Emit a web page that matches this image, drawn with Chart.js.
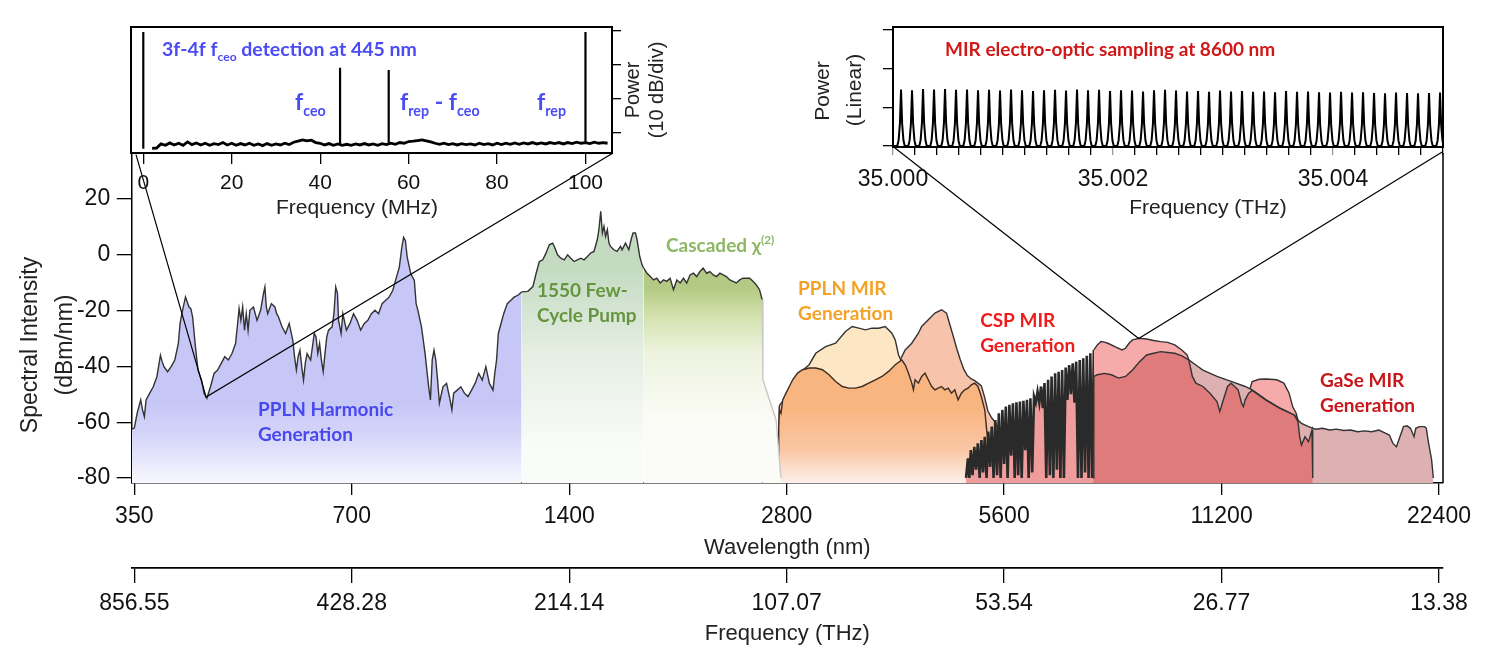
<!DOCTYPE html>
<html>
<head>
<meta charset="utf-8">
<script src="https://cdn.jsdelivr.net/npm/chart.js@4.4.1/dist/chart.umd.min.js"></script>
<style>
  html, body { margin: 0; padding: 0; background: #fff; width: 1500px; height: 658px; overflow: hidden; }
  canvas { position: absolute; }
</style>
</head>
<body>
<canvas id="main" width="1500" height="658" style="left:0;top:0"></canvas>
<canvas id="mhz" width="720" height="240" style="left:0;top:0"></canvas>
<canvas id="thz" width="800" height="240" style="left:700px;top:0"></canvas>
<script>
// speed of light in nm*THz, used for the frequency axis under the wavelength axis
const C_NM_THZ = 299792.458;

// ---------- main spectrum: wavelength (nm) vs spectral intensity (dBm/nm) ----------
const harmonicNm = [347.2, 350, 353.2, 357.2, 359.3, 361.4, 363.4, 367.6, 371.8, 376.1, 380.4, 382.5, 384.7, 389.2, 393.6, 398.2, 402.7, 405.0, 407.3, 412.0, 416.7, 419.1, 421.5, 425.3, 428.8, 433.7, 437.1, 441.1, 446.2, 451.3, 456.5, 461.7, 467.0, 472.4, 477.8, 483.3, 486.0, 488.8, 491.6, 494.4, 497.3, 500.1, 503.0, 505.9, 511.7, 514.6, 517.5, 523.5, 528.3, 530.7, 533.1, 535.5, 541.7, 547.9, 551.0, 554.2, 560.5, 566.9, 573.4, 580.0, 583.3, 586.7, 590.0, 593.4, 596.8, 600.2, 603.6, 607.1, 614.0, 621.1, 624.6, 628.2, 631.8, 635.4, 639.1, 642.7, 646.4, 650.1, 657.5, 661.3, 665.1, 668.9, 671.1, 676.6, 680.4, 688.2, 696.0, 704.0, 712.1, 720.2, 728.5, 736.8, 745.2, 753.8, 762.4, 771.1, 780.0, 788.9, 797.9, 807.2, 814.6, 821.1, 825.8, 830.5, 835.3, 844.9, 854.5, 859.4, 864.3, 874.2, 884.3, 894.4, 899.5, 904.7, 909.8, 915.0, 920.3, 925.6, 936.2, 946.9, 957.7, 963.2, 968.7, 979.8, 991.0, 1002.4, 1013.9, 1025.5, 1037.2, 1049.1, 1061.1, 1073.3, 1085.6, 1098.0, 1104.3, 1110.6, 1116.9, 1123.3, 1136.2, 1149.2, 1162.3, 1175.6, 1189.1, 1202.7];
const harmonicDbm = [-62.5, -62.1, -56.8, -52.0, -55.6, -58.0, -52.0, -49.6, -47.3, -43.7, -36.0, -38.3, -40.1, -41.9, -40.1, -37.7, -31.8, -24.6, -21.1, -15.1, -18.7, -19.3, -22.3, -33.0, -41.3, -44.9, -49.6, -51.4, -47.3, -42.5, -41.3, -38.9, -36.5, -37.7, -35.4, -31.8, -25.8, -19.3, -23.5, -18.7, -27.0, -21.1, -27.0, -19.9, -18.7, -21.1, -23.5, -19.9, -13.9, -11.5, -18.7, -21.1, -17.5, -18.7, -21.1, -22.3, -25.8, -28.2, -24.6, -30.6, -36.5, -41.3, -36.5, -34.2, -40.1, -44.9, -38.9, -35.4, -37.7, -28.2, -29.4, -35.4, -31.8, -37.7, -41.9, -35.4, -29.4, -27.0, -25.8, -21.1, -11.5, -13.9, -23.5, -28.2, -21.1, -27.0, -24.6, -21.1, -23.5, -27.0, -24.6, -23.5, -21.1, -19.9, -21.1, -17.5, -16.3, -15.1, -12.7, -8.0, -4.4, 2.7, 6.3, 5.1, -0.8, -6.8, -9.2, -17.5, -19.9, -25.8, -35.4, -47.3, -52.0, -37.7, -34.2, -37.7, -44.9, -53.2, -47.3, -46.1, -52.0, -55.6, -49.6, -48.5, -47.3, -49.6, -50.8, -48.5, -46.1, -42.5, -44.9, -40.1, -46.1, -48.5, -42.5, -37.7, -28.2, -25.8, -21.1, -17.5, -16.3, -15.1, -14.5, -13.3];

const pumpNm = [1202.7, 1227, 1247, 1260, 1273, 1287, 1300, 1314, 1328, 1335, 1349, 1363, 1378, 1393, 1407, 1422, 1437, 1453, 1468, 1484, 1499, 1515, 1531, 1539, 1548, 1556, 1564, 1572, 1581, 1589, 1597, 1614, 1631, 1649, 1657, 1675, 1693, 1705, 1716, 1729, 1738, 1753, 1766, 1775];
const pumpDbm = [-13.3, -13.1, -11.4, -6.6, -2.4, -1.8, 0.6, 3.6, 4.2, 3.0, 0.0, -1.2, -1.8, 0.0, -1.2, -2.4, -1.8, -1.2, -1.8, -0.6, 0.6, 1.2, 5.4, 9.0, 15.6, 7.8, 10.2, 6.6, 9.0, 4.2, 3.0, 1.8, 1.2, 3.0, 1.8, 4.2, 1.8, 5.4, 7.8, 7.8, 5.4, -0.6, -3.6, -4.8];

const cascadeNm = [1775, 1794, 1813, 1832, 1851, 1871, 1891, 1911, 1931, 1952, 1973, 1994, 2015, 2036, 2058, 2080, 2102, 2124, 2146, 2169, 2192, 2216, 2239, 2263, 2287, 2311, 2336, 2360, 2385, 2411, 2436, 2462, 2488, 2515, 2541, 2568, 2590, 2596, 2707, 2750];
const cascadeDbm = [-4.8, -6.6, -7.8, -9.0, -8.4, -10.1, -9.0, -9.5, -8.4, -12.5, -9.0, -10.1, -8.4, -10.1, -7.2, -6.6, -7.8, -6.0, -4.8, -6.6, -6.0, -7.2, -7.8, -6.6, -7.2, -7.8, -9.0, -9.5, -10.1, -9.0, -8.4, -8.4, -8.4, -9.5, -10.7, -12.5, -16.1, -44.8, -59.2, -80];

const pplnOrangeNm = [2725, 2730, 2736, 2750, 2765, 2794, 2824, 2854, 2899, 2945, 3008, 3072, 3138, 3205, 3273, 3343, 3414, 3487, 3561, 3637, 3715, 3794, 3875, 3958, 4042, 4085, 4128, 4172, 4194, 4216, 4261, 4306, 4352, 4398, 4445, 4492, 4539, 4588, 4636, 4685, 4735, 4785, 4836, 4887, 4939, 4992, 5044, 5098, 5152, 5207, 5265, 5325, 5355];
const pplnOrangeDbm = [-80, -62, -55.6, -56.8, -52.0, -49.6, -47.2, -44.8, -42.4, -41.2, -40.6, -40.6, -41.2, -43.0, -45.4, -47.2, -47.8, -47.8, -47.2, -46.0, -44.8, -43.6, -41.8, -39.4, -37.7, -39.4, -42.4, -46.0, -48.4, -44.8, -46.0, -43.6, -42.4, -44.8, -47.2, -48.4, -47.8, -47.2, -48.4, -47.8, -49.6, -48.4, -52.0, -49.6, -48.4, -47.8, -46.6, -46.0, -47.2, -50.8, -55.6, -68.8, -80];

const pplnPeachNm = [2794, 2854, 2945, 3008, 3072, 3171, 3273, 3378, 3450, 3524, 3599, 3676, 3754, 3834, 3916, 3958, 4000, 4042, 4085, 4172, 4200];
const pplnPeachDbm = [-52, -46, -41.5, -39.4, -35.3, -32.9, -31.7, -27.5, -25.7, -26.3, -26.9, -26.3, -26.3, -25.7, -28.1, -30.5, -35.9, -38.5, -42, -52, -80];

const pplnSalmonNm = [2725, 2736, 2794, 2899, 3008, 3205, 3414, 3637, 3875, 4000, 4021, 4085, 4172, 4261, 4306, 4398, 4492, 4588, 4661, 4710, 4760, 4814, 4869, 4924, 4980, 5044, 5093, 5152, 5209, 5262, 5318, 5384, 5445, 5489, 5520];
const pplnSalmonDbm = [-80, -54, -51, -44, -42, -44.5, -49, -47.5, -43, -39.5, -37.7, -34.1, -31.7, -28.1, -25.7, -23.3, -20.9, -19.7, -20.9, -25, -29, -33.5, -37.5, -41, -43.3, -44.5, -45, -46, -47, -51, -56, -58.5, -60, -62, -80];

// CSP broad trace: the 5-7.5 um part is cut up by water absorption lines
const cspWaterNm = [4960, 4990, 5013, 5036, 5064, 5093, 5121, 5150, 5180, 5209, 5237, 5265, 5295, 5325, 5355, 5384, 5415, 5445, 5476, 5507, 5538, 5569, 5600, 5631, 5663, 5695, 5727, 5760, 5792, 5825, 5857, 5890, 5923, 5956, 5990, 6023, 6056, 6090, 6125, 6160, 6195, 6230, 6265, 6300, 6335, 6370, 6405, 6443, 6480, 6515, 6552, 6589, 6626, 6663, 6700, 6738, 6776, 6814, 6852, 6891, 6930, 6969, 7008, 7047, 7087, 7127, 7167, 7207, 7248, 7289, 7330, 7371, 7412, 7454];
const cspWaterDbm = [-80, -73, -80, -70, -79, -68.8, -77, -67.6, -80, -66.4, -78, -65.2, -80, -63.4, -76, -61.6, -80, -59.2, -79, -56.8, -80, -55.6, -75, -54.4, -80, -53.8, -72, -53.2, -80, -52.9, -79, -52.6, -80, -52.3, -70, -52.0, -80, -51.4, -78, -50.8, -53, -49.0, -53, -47.2, -55, -46.0, -80, -44.8, -79, -43.6, -80, -42.5, -77, -41.9, -80, -41.3, -80, -40.4, -52, -39.5, -50, -38.9, -53, -38.3, -80, -37.7, -80, -37.1, -78, -36.2, -80, -35.3, -80, -34.1];
const cspPinkNm = [7454, 7538, 7624, 7709, 7796, 7973, 8154, 8246, 8339, 8433, 8624, 8819, 9019, 9224, 9433, 9648, 9867, 10035, 10090, 10319, 10553, 11038, 11544, 12075, 12211, 12349, 12629, 12915, 13356, 13660, 13891, 14048, 14207, 14287, 14400, 14500];
const cspPinkDbm = [-34.1, -32.3, -31.1, -31.3, -31.7, -32.9, -34.1, -33.5, -31.7, -30.5, -29.9, -30.2, -30.7, -31.1, -31.4, -32.3, -34.1, -35.9, -37.7, -40.5, -42.3, -44.6, -46.4, -48.2, -49.5, -45.4, -44.6, -44.5, -44.8, -46.0, -49.6, -54.4, -56.8, -59.2, -62, -80];

const cspRedNm = [7440, 7454, 7538, 7709, 7884, 8063, 8246, 8433, 8624, 8819, 9019, 9224, 9433, 9648, 9867, 10090, 10205, 10319, 10553, 10793, 11038, 11137, 11226, 11416, 11544, 11674, 11806, 11940, 12007, 12075, 12211, 12349, 12915, 13508, 14128, 14287, 14368, 14449, 14612, 14776, 14943, 14977];
const cspRedDbm = [-80, -43.6, -43.0, -42.5, -43.0, -44.2, -43.6, -41.3, -38.3, -35.9, -35.3, -34.7, -35.0, -35.3, -36.2, -37.7, -43.6, -46.0, -47.2, -49.6, -52.6, -56.2, -53.2, -47.2, -46.0, -47.2, -48.4, -53.2, -54.4, -52.0, -49.6, -48.6, -52.2, -55.1, -57.5, -59.8, -65.2, -68.2, -65.2, -67, -62.8, -80];

const gaseNm = [9800, 9867, 10090, 10319, 10553, 11038, 11544, 12075, 12349, 12915, 13508, 14128, 14287, 14449, 14776, 15111, 15454, 15805, 16163, 16530, 16904, 17288, 17680, 18080, 18490, 18910, 19122, 19338, 19557, 19777, 20001, 20226, 20454, 20685, 20801, 21036, 21393, 21513, 21633, 21756, 21878, 22001];
const gaseDbm = [-80, -40, -37.7, -39.5, -41.3, -43.6, -45.4, -47.2, -48.4, -52.0, -55.0, -57.4, -59.2, -60.4, -61.6, -62.5, -62.2, -62.8, -62.5, -63.0, -62.8, -63.4, -63.1, -63.4, -62.8, -64.0, -64.6, -67.6, -68.8, -65.2, -61.6, -61.3, -62.2, -65.2, -62.2, -61.6, -61.6, -62.2, -66.4, -70, -73.5, -80];

const wavelengthTicks = [350, 700, 1400, 2800, 5600, 11200, 22400];
const frequencyTickLabels = ['856.55', '428.28', '214.14', '107.07', '53.54', '26.77', '13.38'];
const intensityTicks = [20, 0, -20, -40, -60, -80];

// lines joining each inset to the spot on the spectrum it was measured at
const mhzLinkNm = [351.9, 440, 1610];
const mhzLinkDbm = [35.9, -51, 36.5];
const thzLinkNm = [3931, 8600, 22687];
const thzLinkDbm = [38.8, -30, 37.0];

// ---------- inset 1: RF spectrum, 3f-4f f_ceo beat ----------
const noiseMHz = [2, 3, 4, 5, 6, 7, 8, 9, 10, 11, 12, 13, 14, 15, 16, 17, 18, 19, 20, 21, 22, 23, 24, 25, 26, 27, 28, 29, 30, 31, 32, 33, 34, 35, 36, 37, 38, 39, 40, 41, 42, 43, 44, 45, 46, 47, 48, 49, 50, 51, 52, 53, 54, 55, 56, 57, 58, 59, 60, 61, 62, 63, 64, 65, 66, 67, 68, 69, 70, 71, 72, 73, 74, 75, 76, 77, 78, 79, 80, 81, 82, 83, 84, 85, 86, 87, 88, 89, 90, 91, 92, 93, 94, 95, 96, 97, 98, 99, 100, 101, 102, 103, 104, 105];
const noiseDb = [-34.5, -34.4, -33.2, -33.6, -32.9, -33.5, -33.0, -33.6, -32.6, -33.4,
  -32.9, -33.5, -33.0, -33.6, -33.1, -33.4, -32.8, -33.5, -33.0, -33.6,
  -33.1, -33.5, -33.0, -33.6, -33.2, -33.7, -33.1, -33.6, -33.2, -33.5,
  -33.0, -33.4, -32.7, -32.4, -32.0, -32.3, -32.1, -32.8, -33.0, -33.5,
  -33.1, -33.6, -33.2, -33.6, -33.3, -33.6, -33.2, -33.5, -33.1, -33.5,
  -33.2, -33.6, -33.1, -33.4, -33.0, -33.3, -32.8, -33.0, -32.5, -32.4,
  -32.2, -32.0, -32.3, -32.6, -33.0, -33.3, -33.0, -33.4, -33.1, -33.5,
  -33.1, -33.4, -33.2, -33.5, -33.0, -33.4, -33.1, -33.5, -33.0, -33.4,
  -33.0, -33.3, -32.9, -33.3, -32.9, -33.2, -32.8, -33.2, -32.9, -33.2,
  -32.8, -33.1, -32.8, -33.2, -32.8, -33.1, -32.7, -33.0, -32.8, -33.1,
  -32.7, -33.0, -32.8, -33.0];
const beatMHz = [0, 44.5, 55.5, 100];
const beatPeakDb = [-0.4, -10.9, -11.5, -0.4];
const beatFloorDb = [-34.6, -33.4, -33.3, -33.0];
const mhzTicks = [0, 20, 40, 60, 80, 100];
const dbDivTicks = [0, -10, -20, -30];

// ---------- inset 2: EO sampled comb lines near 35 THz (x = offset from 35 THz, MHz) ----------
const combOffsetMHz = [73, 173, 273, 373, 473, 573, 673, 773, 873, 973, 1073, 1173, 1273, 1373, 1473, 1573, 1673, 1773, 1873, 1973, 2073, 2173, 2273, 2373, 2473, 2573, 2673, 2773, 2873, 2973, 3073, 3173, 3273, 3373, 3473, 3573, 3673, 3773, 3873, 3973, 4073, 4173, 4273, 4373, 4473, 4573, 4673, 4773, 4873, 4973];
const combPower = [1.46, 1.44, 1.47, 1.46, 1.47, 1.45, 1.46, 1.44, 1.45, 1.43,
  1.46, 1.44, 1.42, 1.44, 1.45, 1.43, 1.46, 1.44, 1.45, 1.42,
  1.44, 1.43, 1.41, 1.44, 1.45, 1.43, 1.41, 1.42, 1.40, 1.43,
  1.41, 1.42, 1.40, 1.41, 1.39, 1.42, 1.40, 1.41, 1.39, 1.38,
  1.40, 1.38, 1.39, 1.37, 1.36, 1.38, 1.37, 1.36, 1.37, 1.38];
const thzMajorTicks = [0, 2000, 4000];
const thzTickLabels = ['35.000', '35.002', '35.004'];
const linearTicks = [0, 1, 2, 3];

// ---------- helpers ----------
const TICK_FONT = 'Liberation Sans';
const NOTE_FONT = 'Lato';
Chart.defaults.font.family = TICK_FONT;

function pts(xs, ys) {
  return xs.map((x, i) => ({ x: x, y: ys[i] }));
}

// vertical fade for a fill, stops are [dBm, colour]
function fade(stops) {
  return function (c) {
    const chart = c.chart;
    if (!chart.chartArea) return stops[0][1];
    const y = chart.scales.y;
    const y0 = y.getPixelForValue(stops[0][0]);
    const y1 = y.getPixelForValue(stops[stops.length - 1][0]);
    const g = chart.ctx.createLinearGradient(0, y0, 0, y1);
    stops.forEach(function (s) {
      g.addColorStop((y.getPixelForValue(s[0]) - y0) / (y1 - y0), s[1]);
    });
    return g;
  };
}

function band(xs, ys, fill, order, line, width) {
  return {
    data: pts(xs, ys), order: order,
    borderColor: line || '#333', borderWidth: width || 1.4,
    fill: 'start', backgroundColor: fill,
    pointRadius: 0, tension: 0
  };
}

function richText(ctx, x, y, parts, size, color, weight) {
  ctx.fillStyle = color;
  ctx.textAlign = 'left';
  ctx.textBaseline = 'alphabetic';
  let cx = x;
  parts.forEach(function (p) {
    const mode = p[1];
    const s = mode ? size * 0.62 : size;
    ctx.font = (weight || 'bold') + ' ' + s + 'px ' + NOTE_FONT;
    const dy = mode === 'sub' ? size * 0.24 : (mode === 'sup' ? -size * 0.42 : 0);
    ctx.fillText(p[0], cx, y + dy);
    cx += ctx.measureText(p[0]).width;
  });
}

function label(ctx, t, x, y, size, rotate) {
  ctx.save();
  ctx.translate(x, y);
  if (rotate) ctx.rotate(-Math.PI / 2);
  ctx.font = size + 'px ' + TICK_FONT;
  ctx.fillStyle = '#222';
  ctx.textAlign = 'center';
  ctx.textBaseline = 'middle';
  ctx.fillText(t, 0, 0);
  ctx.restore();
}

const tickFont = { family: TICK_FONT, size: 23 };

// ---------- main chart ----------
const lambdaMin = 347.1, lambdaMax = 22687;

const bandNotes = [
  { lines: [[['PPLN Harmonic', '']], [['Generation', '']]], nm: 519, dbm: -55.2, color: '#4848f0' },
  { lines: [[['1550 Few-', '']], [['Cycle Pump', '']]], nm: 1263, dbm: -12.5, color: '#65953f' },
  { lines: [[['Cascaded \u03c7', ''], ['(2)', 'sup']]], nm: 1906, dbm: 3.6, color: '#8db764' },
  { lines: [[['PPLN MIR', '']], [['Generation', '']]], nm: 2904, dbm: -11.8, color: '#f4a226' },
  { lines: [[['CSP MIR', '']], [['Generation', '']]], nm: 5188, dbm: -23.3, color: '#f01c1c' },
  { lines: [[['GaSe MIR', '']], [['Generation', '']]], nm: 15330, dbm: -44.8, color: '#c8161a' }
];

const mainDecor = {
  id: 'mainDecor',
  afterDraw(chart) {
    const ctx = chart.ctx, a = chart.chartArea, sx = chart.scales.x, sy = chart.scales.y;
    ctx.save();
    ctx.strokeStyle = '#000';
    ctx.lineWidth = 1.5;
    ctx.beginPath();
    ctx.moveTo(a.right, a.top);
    ctx.lineTo(a.right, a.bottom);
    ctx.stroke();

    label(ctx, 'Spectral Intensity', 31, 345, 23, true);
    label(ctx, '(dBm/nm)', 66, 345, 23, true);
    label(ctx, 'Wavelength (nm)', (a.left + a.right) / 2, 548, 22);
    label(ctx, 'Frequency (THz)', (a.left + a.right) / 2, 634, 22);

    bandNotes.forEach(function (n) {
      const x = sx.getPixelForValue(n.nm);
      const y = sy.getPixelForValue(n.dbm);
      n.lines.forEach(function (parts, i) {
        richText(ctx, x, y + 7 + i * 25, parts, 19, n.color);
      });
    });
    ctx.restore();
  }
};

const cascade = band(cascadeNm, cascadeDbm,
  fade([[-12, '#b4ca84'], [-22, '#d3e1ae'], [-35, '#eef3df'], [-60, '#fbfcf7']]), 3);
cascade.segment = { borderColor: c => (c.p1.parsed.y < -30 ? '#c8c8c8' : undefined) };

new Chart(document.getElementById('main'), {
  type: 'line',
  data: {
    datasets: [
      { data: pts(mhzLinkNm, mhzLinkDbm), order: 0, borderColor: '#000', borderWidth: 1.2, pointRadius: 0, fill: false, clip: false },
      { data: pts(thzLinkNm, thzLinkDbm), order: 0, borderColor: '#000', borderWidth: 1.2, pointRadius: 0, fill: false, clip: false },
      band(harmonicNm, harmonicDbm, fade([[-52, '#c6c6f7'], [-64, '#d4d4f9'], [-81.8, '#f8f8fe']]), 1),
      band(pumpNm, pumpDbm, fade([[-5, '#c4dbc2'], [-35, '#e5eee3'], [-70, '#fafcfa']]), 2),
      cascade,
      band(cspRedNm, cspRedDbm, '#e07b7b', 4),
      band(gaseNm, gaseDbm, '#ddb1b1', 5),
      band(cspPinkNm, cspPinkDbm, '#f6aaaa', 6),
      band(cspWaterNm, cspWaterDbm, '#ef9c9c', 6, '#2a2a2a', 2.6),
      band(pplnOrangeNm, pplnOrangeDbm, fade([[-55, '#f9b580'], [-70, '#fac7a6'], [-81.8, '#fdf0ea']]), 7, '#3d2c22'),
      band(pplnPeachNm, pplnPeachDbm, '#fde6c4', 8),
      band(pplnSalmonNm, pplnSalmonDbm, '#f8c3ab', 9)
    ]
  },
  options: {
    responsive: false, animation: false, events: [],
    layout: { padding: { left: 0, top: 153, right: 57, bottom: 0 } },
    plugins: { legend: { display: false }, tooltip: { enabled: false } },
    scales: {
      x: {
        type: 'logarithmic', position: 'bottom', weight: 0, min: lambdaMin, max: lambdaMax,
        afterFit: s => { s.height = 85; },
        afterBuildTicks: s => { s.ticks = wavelengthTicks.map(v => ({ value: v })); },
        ticks: { callback: v => String(v), font: tickFont, color: '#111', padding: 8, maxRotation: 0, minRotation: 0, autoSkip: false },
        grid: { drawOnChartArea: false, drawTicks: true, tickLength: 12, color: '#000', lineWidth: 1.3 },
        border: { display: true, color: '#000', width: 1.5 }
      },
      xf: {
        type: 'logarithmic', position: 'bottom', weight: 1, reverse: true,
        min: C_NM_THZ / lambdaMax, max: C_NM_THZ / lambdaMin,
        afterFit: s => { s.height = 90; },
        afterBuildTicks: s => { s.ticks = wavelengthTicks.map(v => ({ value: C_NM_THZ / v })); },
        ticks: { callback: (v, i) => frequencyTickLabels[i], font: tickFont, color: '#111', padding: 7, maxRotation: 0, minRotation: 0, autoSkip: false },
        grid: { drawOnChartArea: false, drawTicks: true, tickLength: 15, color: '#000', lineWidth: 1.3 },
        border: { display: true, color: '#000', width: 1.8 }
      },
      y: {
        type: 'linear', position: 'left', min: -81.8, max: 36.5,
        afterFit: s => { s.width = 131.7; },
        afterBuildTicks: s => { s.ticks = intensityTicks.map(v => ({ value: v })); },
        ticks: { callback: v => String(v), font: tickFont, color: '#111', padding: 6.5 },
        grid: { drawOnChartArea: false, drawTicks: true, tickLength: 15, color: '#000', lineWidth: 1.3 },
        border: { display: true, color: '#000', width: 1.5 }
      }
    }
  },
  plugins: [mainDecor]
});

// ---------- inset 1 ----------
const beatTrace = [];
beatMHz.forEach(function (f, i) {
  beatTrace.push({ x: f, y: beatFloorDb[i] }, { x: f, y: beatPeakDb[i] }, { x: f, y: null });
});

const mhzDecor = {
  id: 'mhzDecor',
  afterDraw(chart) {
    const ctx = chart.ctx, a = chart.chartArea;
    ctx.save();
    ctx.strokeStyle = '#000';
    ctx.lineWidth = 2;
    ctx.strokeRect(a.left, a.top, a.right - a.left, a.bottom - a.top);
    label(ctx, 'Frequency (MHz)', 357, 208, 21);
    label(ctx, 'Power', 633, 90, 20, true);
    label(ctx, '(10 dB/div)', 657, 90, 20, true);
    const blue = '#4b4bf5';
    richText(ctx, 162, 56, [['3f-4f f', ''], ['ceo', 'sub'], [' detection at 445 nm', '']], 19.5, blue);
    richText(ctx, 295, 110, [['f', ''], ['ceo', 'sub']], 23, blue);
    richText(ctx, 400, 110, [['f', ''], ['rep', 'sub'], [' - f', ''], ['ceo', 'sub']], 23, blue);
    richText(ctx, 537, 110, [['f', ''], ['rep', 'sub']], 23, blue);
    ctx.restore();
  }
};

new Chart(document.getElementById('mhz'), {
  type: 'line',
  data: {
    datasets: [
      { data: pts(noiseMHz, noiseDb), borderColor: '#000', borderWidth: 2.8, pointRadius: 0, fill: false, tension: 0 },
      { data: beatTrace, borderColor: '#000', borderWidth: 2.2, pointRadius: 0, fill: false, spanGaps: false }
    ]
  },
  options: {
    responsive: false, animation: false, events: [],
    layout: { padding: { left: 131, top: 27, right: 88, bottom: 47 } },
    plugins: { legend: { display: false }, tooltip: { enabled: false } },
    scales: {
      x: {
        type: 'linear', min: -2.78, max: 106,
        afterFit: s => { s.height = 40; },
        afterBuildTicks: s => { s.ticks = mhzTicks.map(v => ({ value: v })); },
        ticks: { callback: v => String(v), font: { family: TICK_FONT, size: 21 }, color: '#111', padding: 6.5, maxRotation: 0, autoSkip: false },
        grid: { drawOnChartArea: false, tickLength: 11, color: '#000', lineWidth: 1.3 },
        border: { display: true, color: '#000', width: 2 }
      },
      y: {
        type: 'linear', position: 'right', min: -35.86, max: 1.08,
        afterFit: s => { s.width = 20; },
        afterBuildTicks: s => { s.ticks = dbDivTicks.map(v => ({ value: v })); },
        ticks: { callback: () => '' },
        grid: { drawOnChartArea: false, tickLength: 9, color: '#000', lineWidth: 1.3 },
        border: { display: true, color: '#000', width: 2 }
      }
    }
  },
  plugins: [mhzDecor]
});

// ---------- inset 2 ----------
const combShapeDx = [-34, -22, -10, 0, 10, 22, 34];
const combShapeFrac = [0, 0.1, 0.4, 1, 0.4, 0.1, 0];
const combTrace = [{ x: 0, y: 0 }];
combOffsetMHz.forEach(function (f, i) {
  combShapeDx.forEach(function (dx, k) {
    combTrace.push({ x: f + dx, y: combPower[i] * combShapeFrac[k] });
  });
});
combTrace.push({ x: 5000, y: 0 });

const thzDecor = {
  id: 'thzDecor',
  afterDraw(chart) {
    const ctx = chart.ctx, a = chart.chartArea;
    ctx.save();
    ctx.strokeStyle = '#000';
    ctx.lineWidth = 2;
    ctx.strokeRect(a.left, a.top, a.right - a.left, a.bottom - a.top);
    label(ctx, 'Frequency (THz)', 1208 - 700, 208, 21);
    label(ctx, 'Power', 823 - 700, 91, 21, true);
    label(ctx, '(Linear)', 855 - 700, 90, 21, true);
    richText(ctx, 945 - 700, 56, [['MIR electro-optic sampling at 8600 nm', '']], 19, '#d01818');
    ctx.restore();
  }
};

new Chart(document.getElementById('thz'), {
  type: 'line',
  data: {
    datasets: [
      { data: combTrace, borderColor: '#000', borderWidth: 2, pointRadius: 0, fill: false, tension: 0 }
    ]
  },
  options: {
    responsive: false, animation: false, events: [],
    layout: { padding: { left: 173, top: 27, right: 57, bottom: 43 } },
    plugins: { legend: { display: false }, tooltip: { enabled: false } },
    scales: {
      x: {
        type: 'linear', min: 0, max: 5000,
        afterFit: s => { s.height = 50; },
        afterBuildTicks: s => {
          const t = [];
          for (let v = 0; v <= 5000; v += 200) t.push({ value: v });
          s.ticks = t;
        },
        ticks: {
          callback: v => { const k = thzMajorTicks.indexOf(v); return k >= 0 ? thzTickLabels[k] : ''; },
          font: tickFont, color: '#111', padding: 11, maxRotation: 0, autoSkip: false
        },
        grid: { drawOnChartArea: false, tickLength: 8, color: c => (thzMajorTicks.indexOf(c.tick && c.tick.value) >= 0 ? '#999' : '#000'), lineWidth: 1.3 },
        border: { display: true, color: '#000', width: 2 }
      },
      y: {
        type: 'linear', position: 'left', min: -0.026, max: 3.075,
        afterFit: s => { s.width = 20; },
        afterBuildTicks: s => { s.ticks = linearTicks.map(v => ({ value: v })); },
        ticks: { callback: () => '' },
        grid: { drawOnChartArea: false, tickLength: 10, color: '#000', lineWidth: 1.3 },
        border: { display: true, color: '#000', width: 2 }
      }
    }
  },
  plugins: [thzDecor]
});
</script>
</body>
</html>
